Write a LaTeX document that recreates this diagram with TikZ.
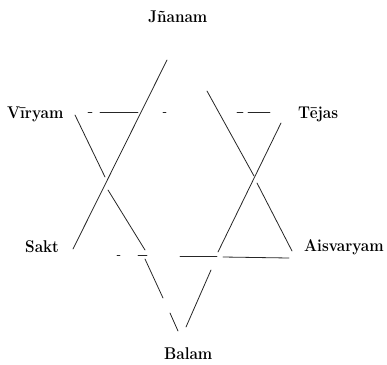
\documentclass[tikz,border=0pt]{standalone}
\begin{document}
\begin{tikzpicture}[x=1pt,y=-1pt,
  seg/.style={line width=0.8pt, line cap=round, black!85},
  lbl/.style={font=\fontsize{17}{20}\selectfont\bfseries, inner sep=0pt, anchor=base west}]
\useasboundingbox (0,0) rectangle (387,364);
% labels
\node[lbl] (jn) at (148,22) {\scalebox{0.9}[1]{Jñanam}};
\node[lbl] (vi) at (7,118) {\scalebox{0.9}[1]{Vīryam}};
\node[lbl] (te) at (298,118) {\scalebox{0.9}[1]{Tējas}};
\node[lbl] (sa) at (25,252) {\scalebox{0.9}[1]{Sakt}};
\node[lbl] (ai) at (304,251) {\scalebox{0.9}[1]{Aisvaryam}};
\node[lbl] (ba) at (164,359) {\scalebox{0.9}[1]{Balam}};
% upward triangle: left side
\draw[seg] (167,60) -- (73,249);
% upward triangle: right side
\draw[seg] (207,91) -- (254,176);
\draw[seg] (257,183) -- (292,251);
% upward triangle: base (broken)
\draw[seg] (117,255) -- (120,255);
\draw[seg] (138,255) -- (147,255);
\draw[seg] (180,256) -- (217,256);
\draw[seg] (223,257) -- (289,258);
% downward triangle: top (broken)
\draw[seg] (88,112) -- (92,112);
\draw[seg] (100,112) -- (138,112);
\draw[seg] (163,112) -- (166,112);
\draw[seg] (237,112) -- (243,112);
\draw[seg] (248,112) -- (270,112);
% downward triangle: left side (broken)
\draw[seg] (75,115) -- (105,177);
\draw[seg] (108,190) -- (145,250);
\draw[seg] (145,259) -- (163,298);
\draw[seg] (170,313) -- (178,331);
% downward triangle: right side (broken)
\draw[seg] (281,123) -- (218,252);
\draw[seg] (211,270) -- (186,327);
\end{tikzpicture}
\end{document}
